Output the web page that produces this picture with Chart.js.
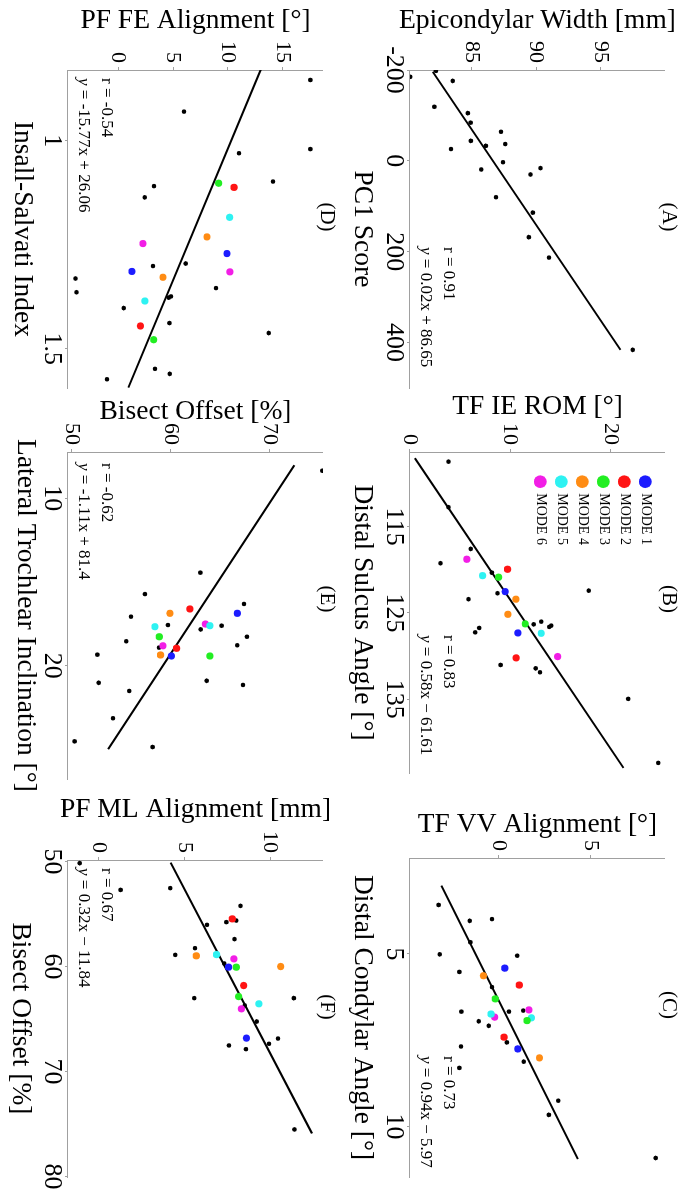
<!DOCTYPE html>
<html lang="en">
<head>
<meta charset="utf-8">
<title>Knee morphology vs. alignment correlations</title>
<script src="https://cdn.jsdelivr.net/npm/chart.js@4.4.1/dist/chart.umd.min.js"></script>
<style>
  html, body { margin: 0; padding: 0; background: #fff; overflow: hidden; width: 685px; height: 1194px; }
  /* the 2x3 figure is laid out landscape and turned a quarter turn clockwise */
  #sheet { position: absolute; left: 0; top: 0; width: 1194px; height: 685px; background: #fff;
           transform-origin: 0 0; transform: translate(685px, 0) rotate(90deg); }
  #sheet canvas { position: absolute; }
</style>
</head>
<body>
<div id="sheet"></div>
<script>
// ---------------- data ----------------
const modeNames = ['MODE 1', 'MODE 2', 'MODE 3', 'MODE 4', 'MODE 5', 'MODE 6'];

// (A) PC1 score vs epicondylar width
const pc1Score = [-185, -198, -176, -119, -105, -84, -64, -44, -33, -37, -26, 3, 19, 30, 16, 80, 114, 168, 213, 416];
const epicondylarWidth = [80.27, 82.25, 83.55, 82.13, 84.72, 84.93, 87.28, 84.95, 86.11, 87.61, 83.42, 87.44, 85.75, 89.56, 90.33, 86.89, 89.74, 89.43, 90.99, 97.46];

// (B) distal sulcus angle vs TF IE ROM
const distalSulcusAngle = [107.47, 112.75, 117.58, 119.24, 120.33, 122.72, 122.42, 123.41, 126.32, 126.01, 126.62, 126.47, 127.25, 126.74, 131.03, 131.42, 131.88, 134.96, 142.38];
const tfIeRom = [3.84, 3.84, 6.07, 3.04, 8.17, 8.74, 17.84, 5.84, 12.34, 13.1, 13.9, 14.1, 6.5, 6.9, 9.04, 12.54, 12.97, 21.77, 24.77];
const modeSulcusAngle = [[122.53, 127.32], [119.94, 130.21], [120.86, 126.27], [123.41, 125.16], [120.68, 127.36], [118.78, 130.06]];
const modeIeRom = [[9.5, 10.77], [9.74, 10.6], [8.84, 11.5], [10.57, 9.77], [7.24, 13.1], [5.67, 14.74]];

// (C) distal condylar angle vs TF VV alignment
const distalCondylarAngle = [3.58, 4.04, 3.99, 4.66, 5.01, 5.05, 5.52, 5.96, 6.67, 6.67, 6.64, 6.95, 7.08, 7.56, 7.68, 8.12, 8.3, 9.25, 9.66, 10.91];
const tfVvAlignment = [-3.28, -1.58, -0.37, -1.55, -3.22, 1.0, -2.15, -0.37, -2.04, 0.55, 1.33, -1.09, -0.55, 0.44, -2.06, 1.36, -2.15, 3.24, 2.73, 8.55];
const modeCondylarAngle = [[5.41, 7.75], [5.9, 7.41], [6.3, 6.93], [5.63, 8.01], [6.74, 6.85], [6.62, 6.83]];
const modeVvAlignment = [[0.33, 1.04], [1.12, 0.29], [-0.19, 1.54], [-0.84, 2.22], [-0.42, 1.78], [1.64, -0.22]];

// (D) Insall-Salvati index vs PF FE alignment
const insallSalvati = [0.854, 0.93, 1.02, 1.03, 1.098, 1.109, 1.136, 1.295, 1.301, 1.331, 1.354, 1.364, 1.377, 1.374, 1.402, 1.438, 1.462, 1.548, 1.56, 1.573];
const pfFeAlignment = [17.49, 6.0, 17.49, 11.0, 14.09, 3.27, 2.43, 6.15, 3.18, -3.87, 8.91, -3.78, 4.61, 4.82, 0.52, 4.67, 13.7, 3.36, 4.7, -1.0];
const modeInsallSalvati = [[1.271, 1.314], [1.112, 1.445], [1.102, 1.478], [1.231, 1.328], [1.184, 1.385], [1.315, 1.247]];
const modePfFe = [[9.91, 1.27], [10.55, 2.04], [9.15, 3.25], [8.09, 4.09], [10.15, 2.45], [10.18, 2.27]];

// (E) lateral trochlear inclination vs bisect offset
const lateralTrochlearInclination = [8.35, 14.44, 15.72, 16.31, 17.07, 17.57, 17.61, 17.83, 18.27, 18.54, 18.78, 18.92, 19.34, 20.9, 21.02, 21.15, 21.51, 23.14, 24.52, 24.86];
const bisectOffsetE = [75.33, 62.99, 57.38, 67.4, 55.97, 59.71, 65.14, 63.02, 67.7, 55.5, 66.73, 58.8, 52.57, 63.63, 52.7, 67.3, 55.8, 54.15, 50.27, 58.16];
const modeTrochlear = [[16.87, 19.42], [16.61, 18.96], [19.42, 18.27], [16.87, 19.36], [17.61, 17.67], [17.51, 18.81]];
const modeBisectE = [[66.73, 60.06], [61.94, 60.59], [63.96, 58.84], [59.91, 58.97], [63.96, 58.4], [63.5, 59.21]];

// (F) bisect offset vs PF ML alignment
const bisectOffsetF = [50.15, 52.7, 52.53, 54.22, 55.62, 56.03, 55.77, 57.39, 58.25, 58.89, 59.71, 63.01, 63.01, 63.71, 65.24, 66.86, 67.36, 67.52, 67.87, 75.52];
const pfMlAlignment = [-1.11, 1.28, 4.18, 8.28, 8.03, 6.32, 7.45, 7.93, 5.62, 4.47, 7.33, 5.58, 11.39, 8.52, 9.22, 10.46, 9.94, 7.6, 8.59, 11.42];
const modeBisectF = [[60.06, 66.82], [55.46, 61.81], [60.06, 62.86], [58.98, 60.0], [58.86, 63.55], [59.27, 64.03]];
const modePfMl = [[7.58, 8.62], [7.8, 8.46], [8.03, 8.17], [5.7, 10.62], [6.88, 9.35], [7.89, 8.33]];

// linear fits (A..F) and the x span each fitted line covers
const fitSlope = [0.0237, 0.58, 0.94, -15.77, -1.11, 0.32];
const fitIntercept = [86.65, -61.61, -5.97, 26.06, 81.4, -11.84];
const fitR = [0.91, 0.83, 0.73, -0.54, -0.62, 0.67];
const fitStart = [-196, 107.07, 3.02, 0.829, 8.02, 50.1];
const fitEnd = [416, 142.96, 10.94, 1.593, 24.99, 75.9];

// tick values
const pc1Ticks = [-200, 0, 200, 400];
const widthTicks = [85, 90, 95];
const sulcusTicks = [115, 125, 135];
const ieRomTicks = [0, 10, 20];
const condylarTicks = [5, 10];
const vvTicks = [0, 5];
const insallTicks = [1, 1.5];
const pfFeTicks = [0, 5, 10, 15];
const trochlearTicks = [10, 20];
const bisectTicksE = [50, 60, 70];
const bisectTicksF = [50, 60, 70, 80];
const pfMlTicks = [0, 5, 10];

// ---------------- styling / layout ----------------
const SERIF = "'Liberation Serif', 'Times New Roman', Times, serif";
const INK = '#000000';
const AXIS_GRAY = '#a0a0a0';
const modeColors = ['#1c1cff', '#ff1414', '#22ee22', '#ff8c14', '#2ef2f2', '#f21ee6'];
const PAD_L = 75, PAD_T = 20, PAD_R = 18, PAD_B = 65;

// plot rectangles are [left, right, top, bottom] on the landscape sheet
const panels = [
  { letter: '(A)', xs: pc1Score, ys: epicondylarWidth, modeX: null, modeY: null,
    xTitle: 'PC1 Score', yTitle: 'Epicondylar Width [mm]', xTicks: pc1Ticks, yTicks: widthTicks,
    xRange: [-200, 500], yRange: [80.25, 99.95], area: [70, 388, 20, 275],
    yTitleGap: 41.7, xTitleDrop: 54.7, statsDx: 177 },
  { letter: '(B)', xs: distalSulcusAngle, ys: tfIeRom, modeX: modeSulcusAngle, modeY: modeIeRom,
    xTitle: 'Distal Sulcus Angle [\u00b0]', yTitle: 'TF IE ROM [\u00b0]', xTicks: sulcusTicks, yTicks: ieRomTicks,
    xRange: [106.35, 143.55], yRange: [0, 25.45], area: [452, 773, 20, 275],
    yTitleGap: 38, xTitleDrop: 54.7, statsDx: 183, legend: true },
  { letter: '(C)', xs: distalCondylarAngle, ys: tfVvAlignment, modeX: modeCondylarAngle, modeY: modeVvAlignment,
    xTitle: 'Distal Condylar Angle [\u00b0]', yTitle: 'TF VV Alignment [\u00b0]', xTicks: condylarTicks, yTicks: vvTicks,
    xRange: [2.22, 11.46], yRange: [-4.84, 9.06], area: [858, 1177, 20, 275],
    yTitleGap: 26.3, xTitleDrop: 54.7, statsDx: 198 },
  { letter: '(D)', xs: insallSalvati, ys: pfFeAlignment, modeX: modeInsallSalvati, modeY: modePfFe,
    xTitle: 'Insall-Salvati Index', yTitle: 'PF FE Alignment [\u00b0]', xTicks: insallTicks, yTicks: pfFeTicks,
    xRange: [0.83, 1.594], yRange: [-4.55, 18.64], area: [70, 388, 362, 617],
    yTitleGap: 41.7, xTitleDrop: 53, statsDx: 8 },
  { letter: '(E)', xs: lateralTrochlearInclination, ys: bisectOffsetE, modeX: modeTrochlear, modeY: modeBisectE,
    xTitle: 'Lateral Trochlear Inclination [\u00b0]', yTitle: 'Bisect Offset [%]', xTicks: trochlearTicks, yTicks: bisectTicksE,
    xRange: [7.23, 26.77], yRange: [49.6, 75.4], area: [452, 779, 362, 617],
    yTitleGap: 33, xTitleDrop: 50, statsDx: 11 },
  { letter: '(F)', xs: bisectOffsetF, ys: pfMlAlignment, modeX: modeBisectF, modeY: modePfMl,
    xTitle: 'Bisect Offset [%]', yTitle: 'PF ML Alignment [mm]', xTicks: bisectTicksF, yTicks: pfMlTicks,
    xRange: [49.85, 80.05], yRange: [-1.79, 13.09], area: [860, 1177, 362, 617],
    yTitleGap: 43.3, xTitleDrop: 54.7, statsDx: 8 }
];

function fmt2(v) { return String(Number(v.toFixed(2))); }
function equationText(s, b) {
  return ' = ' + s.toFixed(2) + 'x' + (b < 0 ? ' \u2212 ' : ' + ') + fmt2(Math.abs(b));
}

// panel letter, axis titles, correlation and fit equation
const panelText = {
  id: 'panelText',
  afterDraw(chart, args, o) {
    if (!o || !o.letter) return;
    const { ctx, chartArea: ca } = chart;
    ctx.save();
    ctx.fillStyle = INK;
    ctx.font = '21px ' + SERIF;
    ctx.textAlign = 'center';
    ctx.textBaseline = 'middle';
    ctx.fillText(o.letter, ca.left + 147, ca.top - 3.5);

    ctx.font = '27.5px ' + SERIF;
    ctx.textBaseline = 'alphabetic';
    ctx.fillText(o.xTitle, (ca.left + ca.right) / 2, ca.bottom + o.xTitleDrop);
    ctx.save();
    ctx.translate(ca.left - o.yTitleGap, (ca.top + ca.bottom) / 2);
    ctx.rotate(-Math.PI / 2);
    ctx.fillText(o.yTitle, 0, 0);
    ctx.restore();

    ctx.textAlign = 'left';
    ctx.textBaseline = 'middle';
    const x0 = ca.left + o.statsDx;
    ctx.font = '17px ' + SERIF;
    ctx.fillText('r = ' + o.r.toFixed(2), x0, ca.bottom - 38);
    ctx.font = 'italic 17px ' + SERIF;
    ctx.fillText('y', x0, ca.bottom - 15);
    const yw = ctx.measureText('y').width;
    ctx.font = '17px ' + SERIF;
    ctx.fillText(o.eq, x0 + yw, ca.bottom - 15);
    ctx.restore();
  }
};

// places the in-plot legend box at a fixed offset from the plot corner
const legendNudge = {
  id: 'legendNudge',
  afterLayout(chart, args, o) {
    const lg = chart.legend;
    if (!lg || !o || o.dx === undefined) return;
    const ca = chart.chartArea;
    lg.left = ca.left + o.dx;
    lg.top = ca.top + o.dy;
    lg.right = lg.left + lg.width + 20;
    lg.bottom = lg.top + lg.height;
  }
};

function axis(range, ticks, horizontal) {
  return {
    type: 'linear',
    position: horizontal ? 'bottom' : 'left',
    bounds: 'data',
    min: range[0],
    max: range[1],
    afterBuildTicks: s => { s.ticks = ticks.map(v => ({ value: v })); },
    afterFit: s => {
      if (horizontal) { s.height = PAD_B; s.paddingLeft = 0; s.paddingRight = 0; }
      else { s.width = PAD_L; s.paddingTop = 0; s.paddingBottom = 0; }
    },
    grid: { display: true, drawOnChartArea: false, drawTicks: true, tickLength: 3, color: AXIS_GRAY, lineWidth: 1 },
    border: { display: true, color: AXIS_GRAY, width: 1 },
    ticks: {
      autoSkip: false, maxRotation: 0, minRotation: 0,
      padding: horizontal ? 0 : 4,
      color: INK,
      font: { family: SERIF, size: horizontal ? 26 : 22, lineHeight: 1 },
      callback: v => String(v)
    },
    title: { display: false }
  };
}

const sheet = document.getElementById('sheet');
Chart.defaults.font.family = SERIF;
Chart.defaults.color = INK;

panels.forEach((p, i) => {
  const [L, R, T, B] = p.area;
  const w = (R - L) + PAD_L + PAD_R;
  const h = (B - T) + PAD_T + PAD_B;
  const cv = document.createElement('canvas');
  cv.width = w;
  cv.height = h;
  Object.assign(cv.style, { left: (L - PAD_L) + 'px', top: (T - PAD_T) + 'px', width: w + 'px', height: h + 'px' });
  sheet.appendChild(cv);

  const datasets = [];
  if (p.modeX) {
    modeNames.forEach((name, m) => {
      datasets.push({
        label: name,
        data: p.modeX[m].map((x, k) => ({ x, y: p.modeY[m][k] })),
        backgroundColor: modeColors[m], borderColor: modeColors[m],
        borderWidth: 0, pointRadius: 3.6, pointStyle: 'circle'
      });
    });
  }
  datasets.push({
    label: 'fit',
    data: [fitStart[i], fitEnd[i]].map(x => ({ x, y: fitSlope[i] * x + fitIntercept[i] })),
    showLine: true, borderColor: INK, borderWidth: 2, pointRadius: 0, fill: false
  });
  datasets.push({
    label: 'subjects',
    data: p.xs.map((x, k) => ({ x, y: p.ys[k] })),
    backgroundColor: INK, borderColor: INK, borderWidth: 0, pointRadius: 2.3
  });

  new Chart(cv, {
    type: 'scatter',
    data: { datasets },
    options: {
      responsive: false,
      animation: false,
      devicePixelRatio: 1,
      events: [],
      layout: { padding: { left: 0, top: PAD_T, right: PAD_R, bottom: 0 }, autoPadding: false },
      scales: { x: axis(p.xRange, p.xTicks, true), y: axis(p.yRange, p.yTicks, false) },
      plugins: {
        tooltip: { enabled: false },
        legend: p.legend ? {
          display: true, position: 'chartArea', align: 'start',
          labels: {
            usePointStyle: true, pointStyle: 'circle', boxWidth: 9, boxHeight: 9, padding: 7,
            color: INK, font: { family: SERIF, size: 14 },
            filter: item => item.text.startsWith('MODE')
          }
        } : { display: false },
        legendNudge: p.legend ? { dx: 18.2, dy: 5.7 } : {},
        panelText: {
          letter: p.letter, xTitle: p.xTitle, yTitle: p.yTitle,
          yTitleGap: p.yTitleGap, xTitleDrop: p.xTitleDrop, statsDx: p.statsDx,
          r: fitR[i], eq: equationText(fitSlope[i], fitIntercept[i])
        }
      }
    },
    plugins: [legendNudge, panelText]
  });
});
</script>
</body>
</html>
